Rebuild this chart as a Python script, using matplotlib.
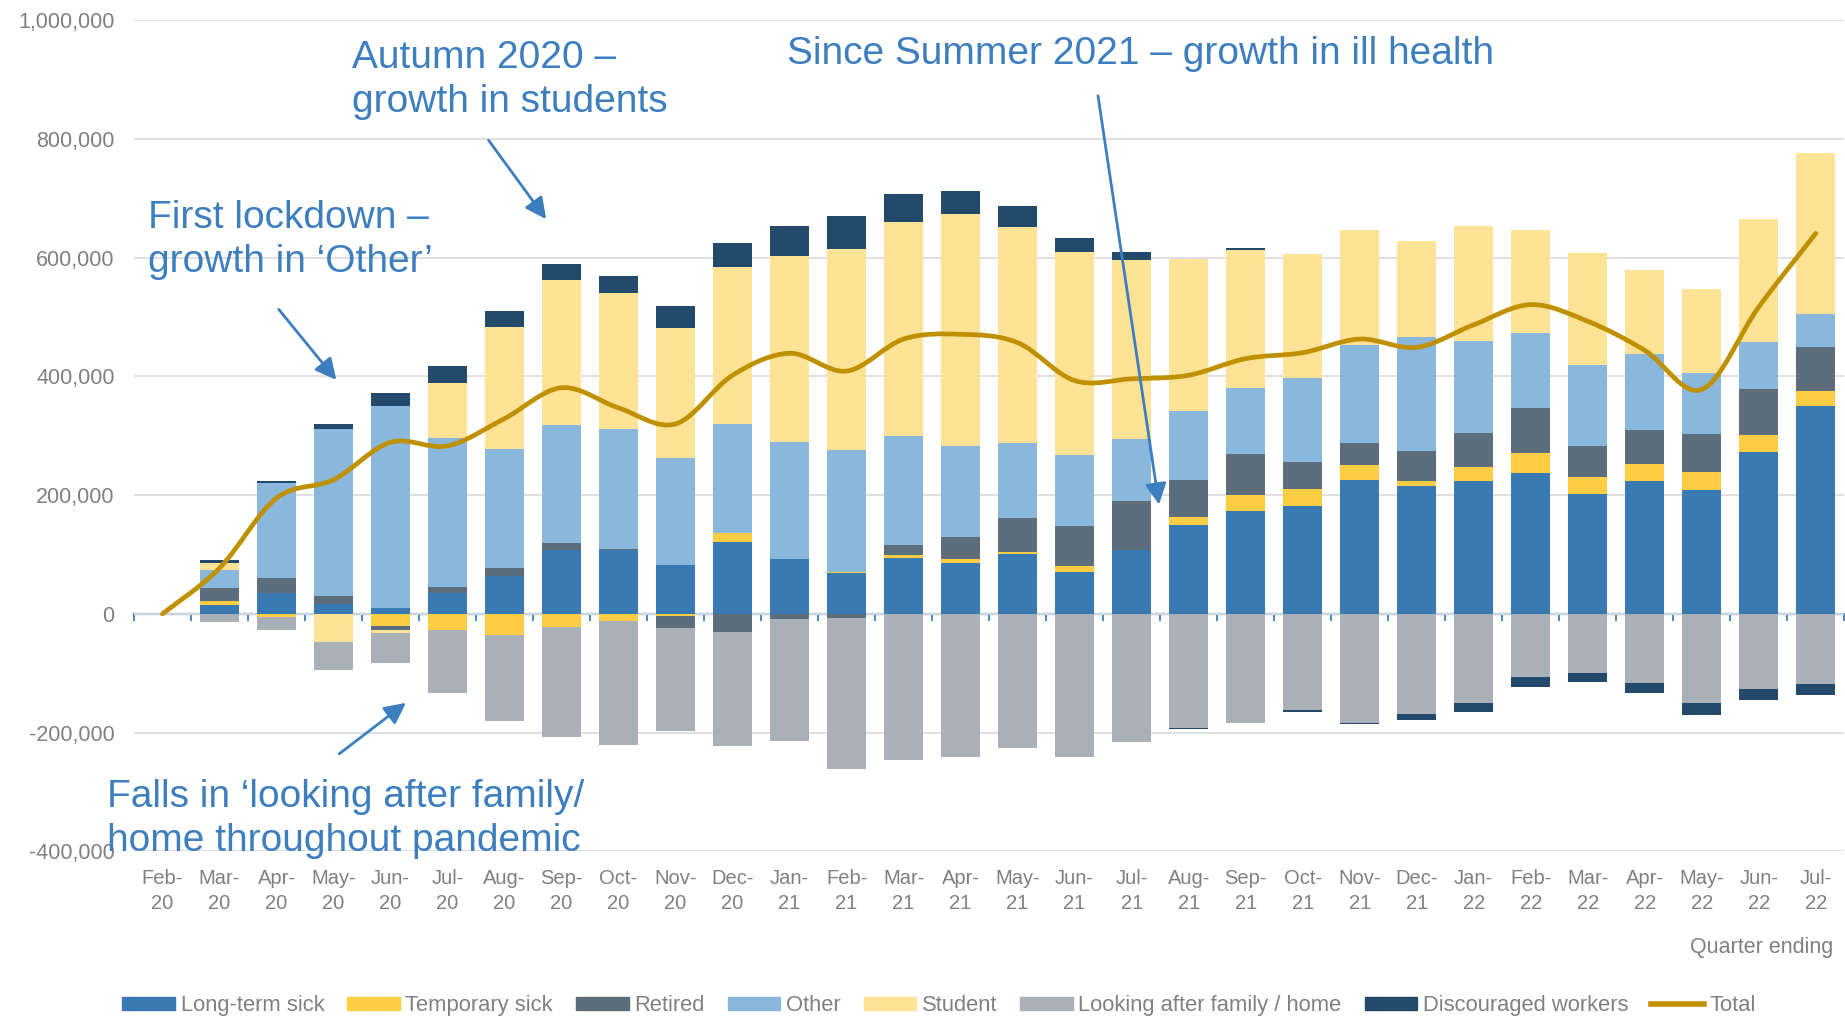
import matplotlib
matplotlib.use("Agg")
import matplotlib.pyplot as plt
from matplotlib.path import Path
from matplotlib.patches import PathPatch, Patch
from matplotlib.lines import Line2D
from matplotlib.ticker import FuncFormatter, MultipleLocator
import numpy as np

plt.rcParams['font.family'] = ['Liberation Sans', 'DejaVu Sans']

# quarter ending labels
months = ["Feb-\n20", "Mar-\n20", "Apr-\n20", "May-\n20", "Jun-\n20", "Jul-\n20",
          "Aug-\n20", "Sep-\n20", "Oct-\n20", "Nov-\n20", "Dec-\n20", "Jan-\n21",
          "Feb-\n21", "Mar-\n21", "Apr-\n21", "May-\n21", "Jun-\n21", "Jul-\n21",
          "Aug-\n21", "Sep-\n21", "Oct-\n21", "Nov-\n21", "Dec-\n21", "Jan-\n22",
          "Feb-\n22", "Mar-\n22", "Apr-\n22", "May-\n22", "Jun-\n22", "Jul-\n22"]

# change since Feb-20, thousands
long_term_sick = [0, 15, 35, 16, 10, 35, 64, 108, 108, 82, 121, 92, 68, 94, 85,
                  100, 70, 108, 149, 174, 182, 226, 215, 223, 237, 202, 224, 208, 273, 351]
temporary_sick = [0, 6, -5, 0, -20, -28, -36, -22, -12, -3, 15, 0, 3, 5, 7,
                  4, 10, 0, 14, 27, 28, 25, 8, 24, 34, 28, 28, 31, 29, 24]
retired = [0, 22, 26, 14, -8, 10, 13, 12, 2, -21, -30, -8, -7, 17, 37,
           57, 68, 82, 62, 68, 45, 36, 51, 58, 76, 52, 57, 64, 76, 75]
other = [0, 31, 159, 281, 340, 251, 200, 198, 202, 181, 184, 198, 205, 183, 154,
         127, 120, 105, 117, 112, 143, 166, 192, 154, 127, 138, 129, 103, 80, 56]
student = [0, 12, 0, -47, -5, 93, 206, 244, 228, 219, 265, 313, 339, 361, 391,
           364, 341, 302, 256, 232, 208, 193, 162, 194, 173, 188, 141, 142, 207, 271]
looking_after = [0, -14, -23, -47, -50, -106, -145, -186, -209, -174, -192, -206, -255, -246, -241,
                 -226, -241, -216, -192, -184, -162, -184, -169, -151, -106, -100, -116, -150, -127, -119]
discouraged = [0, 4, 3, 9, 22, 28, 27, 27, 29, 36, 39, 50, 56, 47, 38,
               35, 25, 12, -2, 3, -3, -1, -10, -15, -18, -15, -17, -20, -19, -17]
total = [0, 77, 195, 226, 289, 283, 329, 381, 347, 320, 402, 439, 409, 463, 471,
         457, 393, 396, 402, 430, 440, 463, 449, 487, 521, 493, 444, 378, 517, 641]

series = [
    ("Long-term sick", long_term_sick, "#3A7AB2"),
    ("Temporary sick", temporary_sick, "#FFCD44"),
    ("Retired", retired, "#5C6E7B"),
    ("Other", other, "#89B8DC"),
    ("Student", student, "#FEE397"),
    ("Looking after family / home", looking_after, "#A9B0B7"),
    ("Discouraged workers", discouraged, "#234A6B"),
]

blue_txt = "#3D7EBF"
grey_txt = "#808080"

fig = plt.figure(figsize=(18.45, 10.17), dpi=100)
ax = fig.add_axes([0.0726, 0.163, 0.927, 0.817])

x = np.arange(len(months))
pos_base = np.zeros(len(x))
neg_base = np.zeros(len(x))
for name, vals, col in series:
    v = np.array(vals, dtype=float) * 1000
    p = np.where(v > 0, v, 0)
    n = np.where(v < 0, v, 0)
    ax.bar(x, p, 0.68, bottom=pos_base, color=col, zorder=2)
    ax.bar(x, n, 0.68, bottom=neg_base, color=col, zorder=2)
    pos_base += p
    neg_base += n

# smoothed total line (bezier through the points)
ty = np.array(total, dtype=float) * 1000
verts = [(x[0], ty[0])]
codes = [Path.MOVETO]
t = 1 / 6
for i in range(len(x) - 1):
    a = max(i - 1, 0)
    b = min(i + 2, len(x) - 1)
    c1 = (x[i] + (x[i + 1] - x[a]) * t, ty[i] + (ty[i + 1] - ty[a]) * t)
    c2 = (x[i + 1] - (x[b] - x[i]) * t, ty[i + 1] - (ty[b] - ty[i]) * t)
    verts += [c1, c2, (x[i + 1], ty[i + 1])]
    codes += [Path.CURVE4] * 3
ax.add_patch(PathPatch(Path(verts, codes), fc="none", ec="#BF9000", lw=3.4,
                       capstyle="round", zorder=4))

ax.set_xlim(-0.5, len(x) - 0.5)
ax.set_ylim(-400000, 1000000)
ax.yaxis.set_major_locator(MultipleLocator(200000))
ax.yaxis.set_major_formatter(FuncFormatter(lambda v, p: f"{int(v):,}"))
ax.grid(axis="y", color="#DCDCDC", lw=1.3, zorder=0)
ax.set_axisbelow(True)
for s in ax.spines.values():
    s.set_visible(False)
ax.tick_params(axis="y", length=0, pad=14, labelsize=15.5, labelcolor=grey_txt)
ax.set_xticks(x)
ax.set_xticklabels(months, linespacing=1.4)
ax.tick_params(axis="x", length=0, pad=13, labelsize=14.5, labelcolor=grey_txt)

# zero axis line with category boundary ticks
zero = ax.secondary_xaxis(400000 / 1400000)
zero.spines["bottom"].set_color("#4A86C0")
zero.spines["bottom"].set_linewidth(1.6)
zero.set_xticks(np.arange(-0.5, len(x), 1))
zero.tick_params(length=5, width=1.4, color="#4A86C0", labelbottom=False, direction="out")

# annotations
notes = [
    ("First lockdown –\ngrowth in ‘Other’", -0.25, 630000, (2.04, 513000), (3.05, 394000)),
    ("Autumn 2020 –\ngrowth in students", 3.32, 899000, (5.72, 798000), (6.73, 665000)),
    ("Since Summer 2021 – growth in ill health", 10.96, 944000, (16.41, 873000), (17.48, 184000)),
    ("Falls in ‘looking after family/\nhome throughout pandemic", -0.97, -345000, (3.10, -236000), (4.27, -150000)),
]
for txt, tx, tyy, start, end in notes:
    ax.text(tx, tyy, txt, color=blue_txt, fontsize=28, ha="left", va="center",
            linespacing=1.28, zorder=6, clip_on=False)
    ax.annotate("", xy=end, xytext=start,
                arrowprops=dict(arrowstyle="-|>", color=blue_txt, lw=2,
                                mutation_scale=32, shrinkA=0, shrinkB=0), zorder=6)

fig.text(0.9935, 0.068, "Quarter ending", ha="right", va="center", fontsize=15.5, color=grey_txt)

handles = [Patch(color=c) for _, _, c in series] + [Line2D([], [], color="#BF9000", lw=4)]
labels = [n for n, _, _ in series] + ["Total"]
leg = fig.legend(handles, labels, loc="center", bbox_to_anchor=(0.509, 0.011), ncol=8,
                 frameon=False, fontsize=15.8, handlelength=2.4, handleheight=0.55,
                 handletextpad=0.25, columnspacing=1.05)
for tx in leg.get_texts():
    tx.set_color(grey_txt)

fig.savefig("out.png", dpi=100)
